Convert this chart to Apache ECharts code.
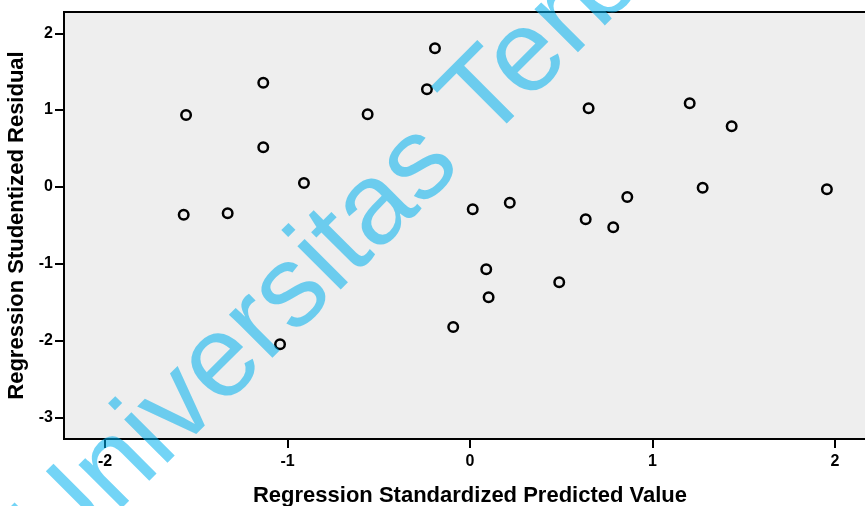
<!DOCTYPE html>
<html>
<head>
<meta charset="utf-8">
<script src="https://cdn.jsdelivr.net/npm/echarts@6/dist/echarts.min.js"></script>
<style>
html,body{margin:0;padding:0;background:#fff;}
#chart{width:865px;height:506px;}
</style>
</head>
<body>
<div id="chart"></div>
<script>
// Regression Standardized Predicted Value
var predicted = [-1.556, -1.569, -1.328, -1.133, -1.133, -0.910, -1.041, -0.561, -0.236, -0.192,
                 0.015, 0.218, 0.089, 0.102, -0.092, 0.489, 0.650, 0.634, 0.785, 0.862,
                 1.204, 1.434, 1.275, 1.956];
// Regression Studentized Residual
var residual = [0.936, -0.364, -0.342, 1.357, 0.516, 0.051, -2.050, 0.945, 1.271, 1.805,
                -0.292, -0.206, -1.073, -1.437, -1.824, -1.242, 1.023, -0.422, -0.526, -0.131,
                1.088, 0.789, -0.010, -0.031];
var xTicks = [-2, -1, 0, 1, 2];
var yTicks = [-3, -2, -1, 0, 1, 2];
var xTitle = 'Regression Standardized Predicted Value';
var yTitle = 'Regression Studentized Residual';
var watermark = 'Universitas Terbuka';

var points = predicted.map(function (v, i) { return [v, residual[i]]; });

var chart = echarts.init(document.getElementById('chart'), null, {renderer: 'canvas'});
var font = 'Liberation Sans, Arial, Helvetica, sans-serif';
chart.setOption({
  animation: false,
  backgroundColor: '#ffffff',
  grid: {
    left: 64, top: 12, right: -11, height: 427,
    containLabel: false,
    outerBoundsMode: 'none',
    show: true, backgroundColor: '#eeeeee', borderColor: '#000', borderWidth: 2
  },
  xAxis: {
    type: 'value', min: -2.225, max: 2.225,
    splitLine: {show: false},
    axisLine: {show: true, onZero: false, lineStyle: {color: '#000', width: 2}},
    axisTick: {show: true, customValues: xTicks, length: 9, lineStyle: {color: '#000', width: 2}},
    axisLabel: {customValues: xTicks, margin: 15, color: '#000', fontFamily: font, fontWeight: 'bold', fontSize: 16},
    name: xTitle, nameLocation: 'middle', nameGap: 46,
    nameTextStyle: {color: '#000', fontFamily: font, fontWeight: 'bold', fontSize: 22}
  },
  yAxis: {
    type: 'value', min: -3.283, max: 2.277,
    splitLine: {show: false},
    axisLine: {show: true, onZero: false, lineStyle: {color: '#000', width: 2}},
    axisTick: {show: true, customValues: yTicks, length: 9, lineStyle: {color: '#000', width: 2}},
    axisLabel: {customValues: yTicks, margin: 11, color: '#000', fontFamily: font, fontWeight: 'bold', fontSize: 16},
    name: yTitle, nameLocation: 'middle', nameGap: 19,
    nameTextStyle: {color: '#000', fontFamily: font, fontWeight: 'bold', fontSize: 22}
  },
  series: [{
    type: 'scatter',
    data: points,
    symbol: 'circle',
    symbolSize: 9.5,
    itemStyle: {color: 'rgba(0,0,0,0)', borderColor: '#000', borderWidth: 2.5, opacity: 1}
  }],
  graphic: [{
    type: 'text',
    x: 55, y: 571,
    rotation: Math.PI / 4,
    z: 100,
    silent: true,
    style: {
      text: watermark,
      x: 0, y: -29,
      align: 'left', verticalAlign: 'middle',
      font: 'normal 116px ' + font,
      fill: 'rgb(0,176,238)',
      opacity: 0.55
    }
  }]
});
</script>
</body>
</html>
